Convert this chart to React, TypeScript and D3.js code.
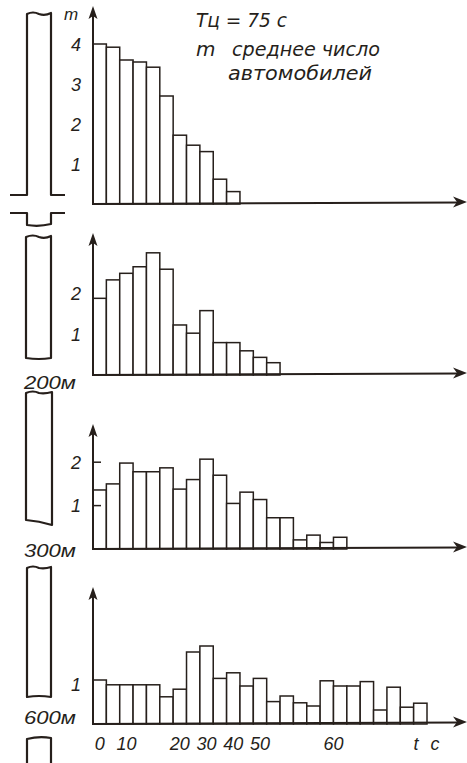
import React from "react";
import * as d3 from "d3";

// seconds per bar, full signal cycle
const binSeconds = 3;
const cycleSeconds = 75;

// average number of cars per 3 s interval
const atStopLine = [4.0, 3.92, 3.6, 3.55, 3.42, 2.7, 1.72, 1.47, 1.31, 0.62, 0.31];
const at200m = [1.87, 2.32, 2.48, 2.64, 2.98, 2.58, 1.22, 1.02, 1.57, 0.79, 0.79, 0.59, 0.43, 0.3];
const at300m = [1.36, 1.5, 1.98, 1.78, 1.78, 1.87, 1.38, 1.6, 2.07, 1.7, 1.05, 1.31, 1.14, 0.72, 0.72, 0.21, 0.32, 0.15, 0.27];
const at600m = [1.1, 0.98, 0.98, 0.98, 0.98, 0.68, 0.87, 1.8, 1.95, 1.14, 1.28, 0.95, 1.14, 0.56, 0.7, 0.53, 0.45, 1.08, 0.95, 0.95, 1.06, 0.35, 0.92, 0.42, 0.52];

const panelLabels = ["", "200м", "300м", "600м"];
const yTicks0 = [1, 2, 3, 4];
const yTicks200 = [1, 2];
const yTicks300 = [1, 2];
const yTicks600 = [1];

// bottom axis labels, and the bar (bin) each one sits under
const xTickLabels = ["0", "10", "20", "30", "40", "50", "60"];
const xTickBins = [0, 2, 6, 8, 10, 12, 17.5];

const title = "Tц = 75 с";
const legendLine1 = "среднее число";
const legendLine2 = "автомобилей";

const W = 467;
const H = 763;
const ink = "#261f1b";
const numFont = "'Liberation Sans', Arial, sans-serif";
const textFont = "'DejaVu Sans', sans-serif";

const panels = [
  { data: atStopLine, ticks: yTicks0, label: panelLabels[0], base: 204, top: 6, unit: 40, tickMarks: false, labelDy: 0 },
  { data: at200m, ticks: yTicks200, label: panelLabels[1], base: 375, top: 233, unit: 41, tickMarks: false, labelDy: 14 },
  { data: at300m, ticks: yTicks300, label: panelLabels[2], base: 549, top: 424, unit: 43.4, tickMarks: true, labelDy: 8 },
  { data: at600m, ticks: yTicks600, label: panelLabels[3], base: 724, top: 587, unit: 40, tickMarks: false, labelDy: 0 },
];

const x = d3.scaleLinear().domain([0, cycleSeconds]).range([93, 427]);
const axisX = x(0);

function Arrows({ base, top }: { base: number; top: number }) {
  return (
    <g>
      <line x1={axisX} y1={base} x2={axisX} y2={top + 8} stroke={ink} strokeWidth={2} />
      <path d={`M${axisX},${top} L${axisX + 4.5},${top + 13} L${axisX},${top + 10} L${axisX - 4.5},${top + 13} Z`} fill={ink} />
      <line x1={axisX - 1} y1={base} x2={W - 6} y2={base - 1.5} stroke={ink} strokeWidth={2} />
      <path d={`M${W},${base - 2} L${W - 14},${base - 7.5} L${W - 10},${base - 2} L${W - 14},${base + 3.5} Z`} fill={ink} />
    </g>
  );
}

function Panel({ p }: { p: (typeof panels)[number] }) {
  const y = d3.scaleLinear().domain([0, 1]).range([p.base, p.base - p.unit]);
  return (
    <g>
      {p.data.map((v, i) => (
        <rect
          key={i}
          x={x(i * binSeconds)}
          y={y(v)}
          width={x(binSeconds) - x(0)}
          height={y(0) - y(v)}
          fill="#fff"
          stroke={ink}
          strokeWidth={1.5}
        />
      ))}
      <Arrows base={p.base} top={p.top} />
      {p.ticks.map((t) => (
        <g key={t}>
          {p.tickMarks && <line x1={axisX} x2={axisX + 8} y1={y(t)} y2={y(t)} stroke={ink} strokeWidth={1.5} />}
          <text
            x={76}
            y={y(t) + 2}
            dominantBaseline="middle"
            textAnchor="middle"
            fontFamily={numFont}
            fontStyle="italic"
            fontSize={18}
            fill={ink}
          >
            {t}
          </text>
        </g>
      ))}
    </g>
  );
}

// the road drawn at the left of each histogram
function Road() {
  const l = 27;
  const r = 51;
  const s = { fill: "none", stroke: ink, strokeWidth: 2.2, strokeLinejoin: "round" as const };
  return (
    <g>
      <path d={`M10,195 L${l},195 L${l},14 Q33,11 39,14 Q45,16 ${r},13 L${r},195 L65,195`} {...s} />
      <path d={`M10,213 L${l},213 L${l},225 Q39,227 ${r},224 L${r},213 L65,213`} {...s} />
      <path d={`M${l - 1},237 Q33,234 39,237 Q45,239 ${r},236 L${r},358 Q39,360 ${l - 1},358 Z`} {...s} />
      <path d={`M${l - 1},393 Q33,390 39,393 Q45,394 ${r + 1},392 L${r + 1},525 Q39,521 ${l - 1},520 Z`} {...s} />
      <path d={`M${l},568 Q33,565 39,568 Q45,569 ${r},567 L${r},697 Q39,695 ${l},697 Z`} {...s} />
      <path d={`M${l},765 L${l},739 Q39,736 ${r},738 L${r},765`} {...s} />
    </g>
  );
}

export default function App() {
  const label = { fontFamily: numFont, fontStyle: "italic", fontSize: 18, fill: ink } as const;
  return (
    <svg width={W} height={H} style={{ position: "absolute", left: 0, top: 0, background: "#fff" }}>
      <rect width={W} height={H} fill="#fff" />
      <Road />
      {panels.map((p, i) => (
        <Panel key={i} p={p} />
      ))}
      {panels
        .filter((p) => p.label)
        .map((p) => (
          <text key={p.label} x={24} y={p.base + p.labelDy} textLength={52} lengthAdjust="spacingAndGlyphs" {...label} fontSize={19}>
            {p.label}
          </text>
        ))}
      <text x={64} y={20} {...label} fontSize={17}>m</text>
      {xTickLabels.map((t, i) => (
        <text key={t} x={x((xTickBins[i] + 0.5) * binSeconds)} y={750} textAnchor="middle" {...label}>
          {t}
        </text>
      ))}
      <text x={416} y={750} textAnchor="middle" {...label}>t</text>
      <text x={435} y={750} textAnchor="middle" {...label}>c</text>
      <g fontFamily={textFont} fontStyle="oblique" fontSize={20} fill={ink}>
        <text x={196} y={27} textLength={91} lengthAdjust="spacingAndGlyphs">{title}</text>
        <text x={196} y={56}>m</text>
        <text x={232} y={56} textLength={148} lengthAdjust="spacingAndGlyphs">{legendLine1}</text>
        <text x={228} y={80} textLength={144} lengthAdjust="spacingAndGlyphs">{legendLine2}</text>
      </g>
    </svg>
  );
}
